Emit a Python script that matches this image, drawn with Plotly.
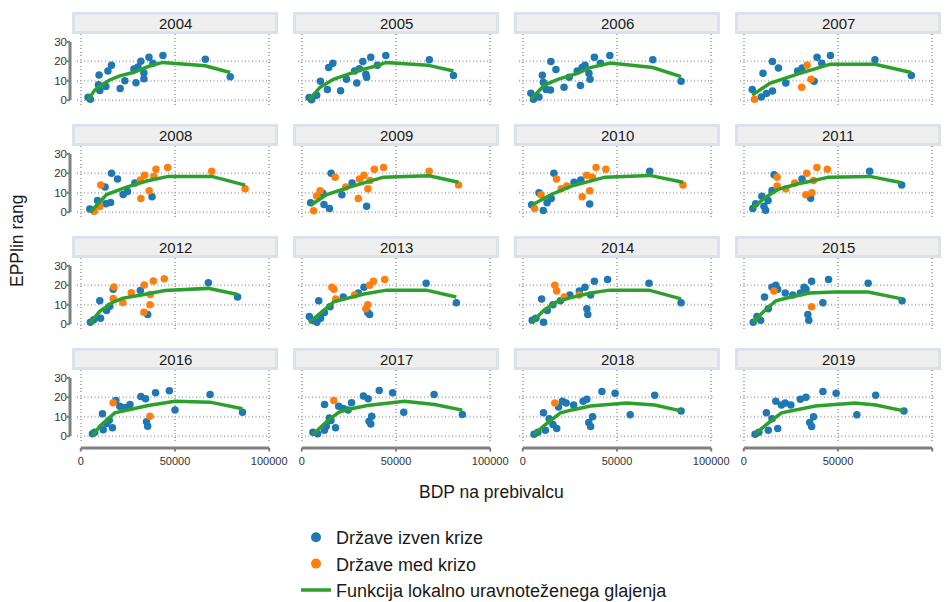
import plotly.graph_objects as go

YEARS = list(range(2004, 2020))

# GDP per capita (x) and EPPlin rank (y): countries outside crisis
out_x = {
    2004: [3900, 5100, 9700, 9400, 10100, 13300, 14400, 16300, 20900, 23400, 28200, 29300, 30300, 31900, 33500, 33500, 36200, 38300, 43600, 66100, 79300],
    2005: [3900, 5200, 7900, 9900, 13600, 14300, 16500, 20600, 23700, 28000, 29200, 30500, 32400, 34000, 34400, 36600, 40100, 44600, 67700, 80500],
    2006: [4300, 5700, 8600, 10400, 10900, 12400, 14700, 14900, 17600, 21900, 24600, 28900, 30600, 31500, 33000, 35100, 35700, 38000, 41200, 46200, 69000, 84000],
    2007: [4500, 9300, 10200, 12000, 15200, 15200, 18400, 22300, 28600, 31000, 37300, 38900, 41400, 46000, 69600, 88900],
    2008: [4800, 8900, 12900, 13300, 15800, 16300, 19500, 22500, 24800, 28700, 37800],
    2009: [4700, 11100, 11800, 14700, 15600, 21300, 26700, 34400],
    2010: [4700, 8600, 10900, 12900, 15100, 16500, 27200, 30800, 35500, 67400],
    2011: [4800, 6300, 9600, 10700, 11600, 12900, 15000, 16100, 30900, 35500, 66800, 83800],
    2012: [5100, 6900, 10100, 10500, 13700, 15400, 17200, 31600, 35500, 67700, 83200],
    2013: [4000, 5500, 8000, 9000, 10000, 12000, 15000, 22000, 30000, 33000, 35000, 36000, 66000, 82000],
    2014: [5000, 7000, 10000, 11000, 13000, 16000, 20000, 25000, 30000, 33000, 34000, 34500, 36000, 38000, 45000, 67000, 84000],
    2015: [5000, 7000, 9000, 11000, 13000, 15000, 17000, 18000, 22000, 26000, 30000, 32000, 33000, 34000, 34500, 36000, 42000, 45000, 66000, 84000],
    2016: [6200, 7400, 11500, 11900, 13700, 15100, 16800, 18600, 20700, 23400, 26100, 31900, 34400, 34900, 35500, 39700, 47000, 50000, 68600, 85800],
    2017: [5900, 8400, 12000, 13000, 12100, 14600, 15500, 17900, 19600, 22000, 24600, 26400, 32700, 35200, 35700, 36600, 37100, 41100, 48200, 54100, 70200, 85200],
    2018: [6000, 8000, 11000, 12000, 14000, 16000, 18000, 19000, 21000, 23000, 27000, 32000, 34000, 35000, 36000, 37000, 42000, 49000, 57000, 70000, 84000],
    2019: [6000, 8000, 12000, 13000, 15000, 17000, 18000, 20000, 22000, 25000, 30000, 33000, 35000, 36000, 37000, 42000, 49000, 60000, 70000, 85000],
}
out_y = {
    2004: [1.5, 0.5, 13, 8, 5, 7, 15, 18, 6, 10, 16, 9, 17, 20, 14, 11, 22, 19, 23, 21, 12],
    2005: [1.4, 0.3, 2.6, 9.7, 5.5, 16.8, 19, 4.9, 10.7, 15, 8.8, 16.1, 19.9, 13.3, 11.8, 22, 18, 22.9, 20.8, 12.7],
    2006: [3.6, 0.5, 1.7, 12.8, 9.2, 5.5, 5.2, 19.9, 15.8, 6.6, 11.8, 15, 7.6, 16.8, 17.9, 13.9, 10.7, 22, 19, 23, 20.8, 9.7],
    2007: [5.5, 1.7, 13.9, 3.5, 4.7, 19.9, 16.6, 8.8, 15, 16.5, 9.7, 22, 19, 23, 20.8, 12.7],
    2008: [1.7, 6, 12.9, 4.3, 5, 20, 17, 9.1, 10.6, 15, 8],
    2009: [4.8, 9.8, 3.9, 1.9, 20, 9, 15, 3],
    2010: [3.8, 10, 0.9, 4.8, 7, 20, 15.4, 16.5, 4.2, 21],
    2011: [1.9, 4.3, 8.2, 3.1, 1, 6, 11.1, 19.2, 17, 7.2, 21, 14],
    2012: [1, 2.3, 12.1, 3.1, 7.1, 9.2, 18, 17.3, 5, 21.3, 14],
    2013: [4, 2, 1, 12, 3, 6, 9, 14, 16, 19, 6, 5, 21, 11],
    2014: [2, 3, 13, 1, 7, 10, 12, 15, 17, 19, 8, 5, 15, 22, 23, 21, 11],
    2015: [1, 4, 2, 14, 8, 19, 20, 18, 16, 15, 16, 19, 18, 5, 2, 22, 11, 23, 21, 12],
    2016: [1.2, 2, 11.5, 3.3, 6.5, 8.2, 4.3, 18.4, 15.4, 14.8, 16.3, 20.4, 19.2, 7.4, 5.1, 22.3, 23.3, 13.4, 21.4, 12.3],
    2017: [2, 1.2, 3.1, 5.1, 16.3, 9.4, 8.1, 4.3, 15.4, 14.2, 13.4, 17.2, 20.6, 19.2, 7.7, 6.3, 10.3, 23.5, 22.3, 12.3, 21.4, 11.1],
    2018: [1, 2, 12, 3, 9, 6, 4, 15, 18, 17, 16, 18, 19, 7, 5, 10, 23, 22, 11, 21, 13],
    2019: [1, 2, 12, 3, 9, 18, 4, 16, 17, 16, 19, 20, 7, 5, 10, 23, 22, 11, 21, 13],
}

# countries in crisis
cri_x = {
    2004: [], 2005: [], 2006: [],
    2007: [5700, 30700, 33600, 35700],
    2008: [7100, 10100, 10600, 31600, 31900, 33900, 36300, 38800, 39900, 46100, 69500, 87200],
    2009: [6300, 7900, 9700, 17700, 23300, 30000, 30600, 33000, 35100, 36200, 38500, 43400, 67600, 83200],
    2010: [6300, 9700, 17900, 20400, 23300, 31500, 33900, 35500, 36900, 38900, 44100, 85000],
    2011: [17700, 17700, 22300, 27000, 32900, 33400, 36100, 37000, 38800, 44300],
    2012: [17600, 17200, 22300, 26800, 33700, 33500, 36700, 36900, 38500, 44300],
    2013: [16000, 17000, 18000, 28000, 34000, 35000, 36000, 38000, 44000],
    2014: [17000, 18000, 22000, 30000],
    2015: [16000, 36000],
    2016: [17200, 36700],
    2017: [17000],
    2018: [17000],
    2019: [],
}
cri_y = {
    2004: [], 2005: [], 2006: [],
    2007: [0.5, 6.6, 17.9, 10.7],
    2008: [0.5, 2.9, 14, 16.5, 7, 19, 11, 18.4, 22, 23, 21, 12],
    2009: [0.7, 8.3, 11, 18, 13, 7, 17.1, 19, 12, 16.3, 22, 23, 21, 14],
    2010: [1.9, 9, 17, 12, 13.4, 8, 19, 11, 18, 23, 22, 14],
    2011: [18, 13.4, 12, 15, 9, 20, 10, 16.3, 23, 22],
    2012: [19.1, 13.2, 11.1, 16.1, 20.1, 6.1, 10, 15.3, 22.2, 23.4],
    2013: [19, 18, 13, 15, 8, 10, 20, 22, 23],
    2014: [20, 17, 14, 15],
    2015: [17, 9],
    2016: [17.2, 10.3],
    2017: [18.4],
    2018: [17],
    2019: [],
}

# locally weighted smoothing curve
fit_x = {
    2004: [3900, 7400, 10100, 15400, 20700, 27800, 31400, 35800, 43400, 54400, 66000, 79300],
    2005: [3900, 9700, 16800, 24000, 31200, 40100, 44600, 66800, 80500],
    2006: [4300, 11500, 18600, 29400, 34800, 46400, 69000, 84000],
    2007: [4500, 13800, 28900, 37000, 46000, 69600, 88900],
    2008: [5100, 13700, 24300, 34900, 46500, 69500, 87200],
    2009: [4700, 13300, 24000, 33000, 43400, 67600, 83200],
    2010: [4700, 15100, 25800, 33000, 43700, 67400, 85000],
    2011: [4800, 11100, 18200, 28900, 36100, 45000, 66800, 83800],
    2012: [4800, 10100, 17200, 22500, 31400, 44700, 67700, 83200],
    2013: [4000, 10000, 17000, 25000, 33000, 45000, 66000, 82000],
    2014: [5000, 11000, 18000, 25000, 36000, 46000, 67000, 84000],
    2015: [5000, 10000, 17000, 25000, 35000, 48000, 66000, 84000],
    2016: [6200, 10100, 18100, 24300, 35800, 50000, 68600, 85800],
    2017: [5900, 13400, 19600, 24100, 34800, 54500, 70500, 85200],
    2018: [6000, 12000, 20000, 26000, 36000, 55000, 70000, 84000],
    2019: [6000, 12000, 20000, 27000, 38000, 59000, 70000, 85000],
}
fit_y = {
    2004: [0.3, 5.2, 7.3, 10.4, 12.5, 14.2, 15.6, 17.3, 19.4, 18.5, 17.7, 14.2],
    2005: [0.3, 6.6, 10.7, 13, 15.6, 17.7, 19.4, 18, 15],
    2006: [0.5, 7.8, 10.7, 13.9, 16.5, 19.1, 16.8, 12.1],
    2007: [2.6, 8.7, 13.5, 16, 18.5, 18.5, 14.2],
    2008: [0, 9.1, 12.9, 16, 18.4, 18.4, 13.9],
    2009: [3.6, 9.1, 12.5, 15.1, 18, 18.7, 15.4],
    2010: [3.6, 9.1, 13.4, 15.1, 18, 18.9, 15.4],
    2011: [2.2, 7.4, 11.7, 14.6, 16, 18, 18.4, 15.1],
    2012: [0.5, 6.6, 11.4, 13.4, 14.9, 17.3, 18.4, 15.3],
    2013: [1, 6, 11.5, 13.5, 15.5, 17.5, 17.5, 14],
    2014: [1, 7, 11.5, 13.5, 16, 17.5, 17.5, 13],
    2015: [1, 6, 12, 14, 16, 16.5, 16.5, 13],
    2016: [0.3, 5.1, 12, 13.4, 15.8, 18, 17.5, 14.1],
    2017: [0.9, 7.7, 12.3, 13.7, 15.8, 18, 16.3, 13.4],
    2018: [1, 6, 12, 13.5, 15.5, 17, 16, 13],
    2019: [1, 6, 12, 13.5, 15.5, 17, 16, 13],
}

X_TICKS = [0, 50000, 100000]
X_TICK_TEXT = ["0", "50000", "100000"]
Y_TICKS = [0, 10, 20, 30]
Y_TICK_TEXT = ["0", "10", "20", "30"]
Y_GRID = [0, 10, 20]

NAMES = ["Države izven krize", "Države med krizo", "Funkcija lokalno uravnoteženega glajenja"]
X_TITLE = "BDP na prebivalcu"
Y_TITLE = "EPPlin rang"

BLUE, ORANGE, GREEN = "#1f77b4", "#ff7f0e", "#2ca02c"
FRAME = "#808080"
GRID = "#b3b3b3"
FONT = "Liberation Sans, Arial, sans-serif"

W, H = 950, 602
COL_LEFT = [77, 298, 519, 740]
ROW_TOP = [34, 146, 258, 370]
PW, PH = 196, 74
XR = [-2000, 102000]
YR = [-4, 34]

fig = go.Figure()
layout = {}
shapes = []
annotations = []

for i, yr in enumerate(YEARS):
    r, c = divmod(i, 4)
    n = i + 1
    xa = "x" if n == 1 else f"x{n}"
    ya = "y" if n == 1 else f"y{n}"
    xk = "xaxis" if n == 1 else f"xaxis{n}"
    yk = "yaxis" if n == 1 else f"yaxis{n}"

    fig.add_trace(go.Scatter(x=out_x[yr], y=out_y[yr], mode="markers",
                             marker=dict(color=BLUE, size=7.5), xaxis=xa, yaxis=ya,
                             showlegend=False, name=NAMES[0]))
    if cri_x[yr]:
        fig.add_trace(go.Scatter(x=cri_x[yr], y=cri_y[yr], mode="markers",
                                 marker=dict(color=ORANGE, size=7.5), xaxis=xa, yaxis=ya,
                                 showlegend=False, name=NAMES[1]))
    fig.add_trace(go.Scatter(x=fit_x[yr], y=fit_y[yr], mode="lines",
                             line=dict(color=GREEN, width=3.5), xaxis=xa, yaxis=ya,
                             showlegend=False, name=NAMES[2]))

    left, top = COL_LEFT[c], ROW_TOP[r]
    layout[xk] = dict(domain=[left / W, (left + PW) / W], range=XR, anchor=ya,
                      tickmode="array", tickvals=X_TICKS, ticktext=X_TICK_TEXT,
                      showticklabels=(r == 3), ticks="", ticklabelstandoff=9,
                      showgrid=True, gridcolor=GRID, gridwidth=2, griddash="1px,2.5px",
                      zeroline=False, showline=False,
                      tickfont=dict(size=11, color="#333333", family=FONT))
    layout[yk] = dict(domain=[1 - (top + PH) / H, 1 - top / H], range=YR, anchor=xa,
                      tickmode="array", tickvals=Y_TICKS, ticktext=Y_TICK_TEXT,
                      showticklabels=(c == 0), ticks="", ticklabelstandoff=9,
                      showgrid=False, zeroline=False, showline=False,
                      tickfont=dict(size=11.5, color="#333333", family=FONT))

    # horizontal dotted grid
    for v in Y_GRID:
        shapes.append(dict(type="line", xref=f"{xa} domain", yref=ya, x0=0, x1=1, y0=v, y1=v,
                           line=dict(color=GRID, width=2, dash="1px,2.5px"), layer="below"))

    # strip
    shapes.append(dict(type="rect", xref=f"{xa} domain", yref=f"{ya} domain",
                       x0=-3.5 / PW, x1=1 + 3.5 / PW, y0=1 + 1.5 / PH, y1=1 + 20.5 / PH,
                       fillcolor="#efefef", line=dict(color="#d9e3e9", width=3)))
    annotations.append(dict(text=str(yr), xref=f"{xa} domain", yref=f"{ya} domain",
                            x=0.5, y=1 + 11 / PH, showarrow=False, xanchor="center", yanchor="middle",
                            font=dict(size=15, color="#1a1a1a", family=FONT)))

    # range-frame axes
    if c == 0:
        lx = -7 / PW
        shapes.append(dict(type="line", xref=f"{xa} domain", yref=ya, x0=lx, x1=lx,
                           y0=min(Y_TICKS), y1=max(Y_TICKS), line=dict(color=FRAME, width=3)))
        for v in Y_TICKS:
            shapes.append(dict(type="line", xref=f"{xa} domain", yref=ya, x0=lx, x1=lx - 3.5 / PW,
                               y0=v, y1=v, line=dict(color=FRAME, width=2)))
    if r == 3:
        ly = -4 / PH
        shapes.append(dict(type="line", xref=xa, yref=f"{ya} domain", x0=min(X_TICKS), x1=max(X_TICKS),
                           y0=ly, y1=ly, line=dict(color=FRAME, width=3)))
        for v in X_TICKS:
            shapes.append(dict(type="line", xref=xa, yref=f"{ya} domain", x0=v, x1=v,
                               y0=ly, y1=ly - 3.5 / PH, line=dict(color=FRAME, width=2)))

# legend entries
fig.add_trace(go.Scatter(x=[None], y=[None], mode="markers", marker=dict(color=BLUE, size=10),
                         name=NAMES[0], legendgroup="a"))
fig.add_trace(go.Scatter(x=[None], y=[None], mode="markers", marker=dict(color=ORANGE, size=10),
                         name=NAMES[1], legendgroup="b"))
fig.add_trace(go.Scatter(x=[None], y=[None], mode="lines", line=dict(color=GREEN, width=3.5),
                         name=NAMES[2], legendgroup="c"))

annotations.append(dict(text=X_TITLE, xref="paper", yref="paper", x=491 / W, y=1 - 492 / H,
                        showarrow=False, xanchor="center", yanchor="middle",
                        font=dict(size=17.5, color="#1a1a1a", family=FONT)))
annotations.append(dict(text=Y_TITLE, xref="paper", yref="paper", x=17 / W, y=1 - 241 / H,
                        showarrow=False, xanchor="center", yanchor="middle", textangle=-90,
                        font=dict(size=17.5, color="#1a1a1a", family=FONT)))

fig.update_layout(
    width=W, height=H, margin=dict(l=0, r=0, t=0, b=0, autoexpand=False),
    paper_bgcolor="white", plot_bgcolor="white",
    font=dict(family=FONT, color="#1a1a1a"),
    shapes=shapes, annotations=annotations,
    legend=dict(x=296 / W, y=1 - 519 / H, xanchor="left", yanchor="top",
                font=dict(size=18, color="#1a1a1a", family=FONT),
                tracegroupgap=0, bgcolor="rgba(0,0,0,0)"),
    showlegend=True,
    **layout,
)

fig.write_html("out.html")
